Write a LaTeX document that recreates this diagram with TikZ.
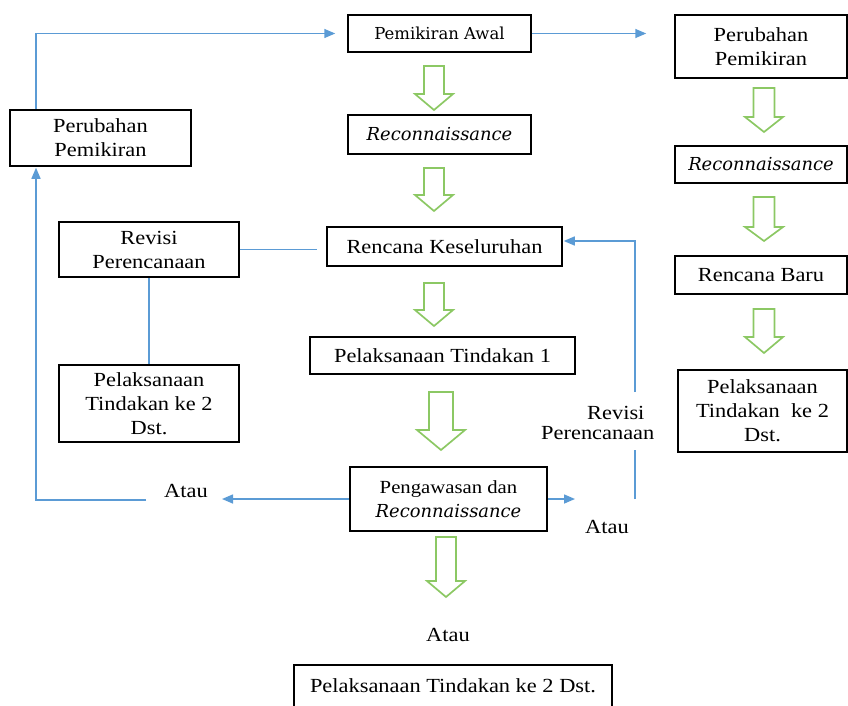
\documentclass[tikz,border=0pt]{standalone}
\usepackage{fontspec}
\setmainfont{Liberation Serif}[FakeStretch=1.12]
\newfontfamily\dvs{DejaVu Serif}
\usetikzlibrary{arrows.meta}
\definecolor{bl}{RGB}{91,155,213}
\definecolor{gr}{RGB}{140,200,100}
\newcommand\recon{{\dvs\itshape\fontsize{17.9}{21}\selectfont Reconnaissance}}
\newcommand\bx[6]{\node[box,minimum width={(#3-#2)*1pt},minimum height={(#5-#4)*1pt}] (#1) at ({(#2+#3)/2},{(#4+#5)/2}) {#6};}
\newcommand\garr[6]{\draw[garrow] ({#1-#5},#2) -- ({#1+#5},#2) -- ({#1+#5},#3) -- ({#1+#6},#3) -- (#1,#4) -- ({#1-#6},#3) -- ({#1-#5},#3) -- cycle;}
\tikzset{
  box/.style={draw,line width=1.5pt,inner sep=0pt,align=center,font=\fontsize{20}{24}\selectfont},
  conn/.style={draw=bl,line width=1.5pt},
  arr/.style={conn,-{Triangle[length=11pt,width=9pt]}},
  lbl/.style={inner sep=0pt,font=\fontsize{20}{24}\selectfont},
  garrow/.style={draw=gr,line width=1.7pt,line join=miter}
}
\begin{document}
\begin{tikzpicture}[x=1pt,y=-1pt]
\useasboundingbox (0,0) rectangle (848,706);
\clip (0,0) rectangle (848,706);
% centre column
\bx{pa}{348}{531}{15}{52}{\dvs\fontsize{16.5}{20}\selectfont Pemikiran Awal}
\bx{rc}{348}{531}{115}{154}{\recon}
\bx{rk}{327}{562}{227}{266}{Rencana Keseluruhan}
\bx{p1}{310}{575}{337}{374}{Pelaksanaan Tindakan 1}
\bx{pg}{350}{547}{467}{531}{\fontsize{18.5}{21}\selectfont Pengawasan dan\\\recon}
\node[box,anchor=north,minimum width=318pt,text height=28pt,text depth=20pt] (pb) at (453,664) {Pelaksanaan Tindakan ke 2 Dst.};
% left column
\bx{lpp}{10}{191}{110}{166}{Perubahan\\Pemikiran}
\bx{lrv}{59}{239}{222}{277}{Revisi\\Perencanaan}
\bx{lpl}{59}{239}{365}{442}{\fontsize{20}{23}\selectfont Pelaksanaan\\Tindakan ke 2\\Dst.}
% right column
\bx{rpp}{675}{847}{15}{78}{Perubahan\\Pemikiran}
\bx{rrc}{675}{847}{146}{183}{\recon}
\bx{rrb}{675}{847}{256}{294}{Rencana Baru}
\bx{rpl}{678}{847}{370}{452}{\fontsize{20}{23}\selectfont Pelaksanaan\\Tindakan\ \ ke 2\\Dst.}
% labels
\node[lbl] (atauL) at (186,491) {Atau};
\node[lbl] (atauR) at (607,527) {Atau};
\node[lbl] (atauB) at (448,635) {Atau};
\node[lbl,align=left,anchor=west,font=\fontsize{20}{20}\selectfont] (revlbl) at (541,423) {\hspace*{46pt}Revisi\\Perencanaan};
% blue connectors
\coordinate (c1) at (36,33.5);
\draw[arr,shorten >=12pt] (lpp.north -| c1) -- (c1) -- (pa.west);
\draw[arr,shorten >=28pt] (pa.east) -- (rpp.west |- pa.east);
\coordinate (c3) at (36,500);
\coordinate (c4) at (146,500);
\draw[arr,shorten >=1pt] (c4) -- (c3) -- (lpp.south -| c3);
\coordinate (c5) at (222,499);
\draw[arr] (pg.west) -- (c5);
\coordinate (c6) at (575,499);
\draw[arr] (pg.east) -- (c6);
\coordinate (c7) at (635,499);
\coordinate (c8) at (635,450);
\draw[conn] (c7) -- (c8);
\coordinate (c9) at (635,392);
\coordinate (c10) at (635,241);
\draw[arr,shorten >=1pt] (c9) -- (c10) -- (c10 -| rk.east);
\draw[conn,shorten >=9pt] (lrv.east) -- (rk.west |- lrv.east);
\draw[conn] (lrv.south) -- (lpl.north);
% green block arrows
\garr{434}{66}{94}{110}{10}{19}
\garr{434}{168}{195}{211}{10}{19}
\garr{434}{283}{310}{326}{10}{19}
\garr{441}{392}{430}{450}{12}{24}
\garr{446}{537}{581}{597}{10}{19}
\garr{764}{88}{117}{132}{10.5}{19}
\garr{764}{197}{227}{241}{10.5}{19}
\garr{764}{309}{337}{353}{10.5}{19}
\end{tikzpicture}
\end{document}
